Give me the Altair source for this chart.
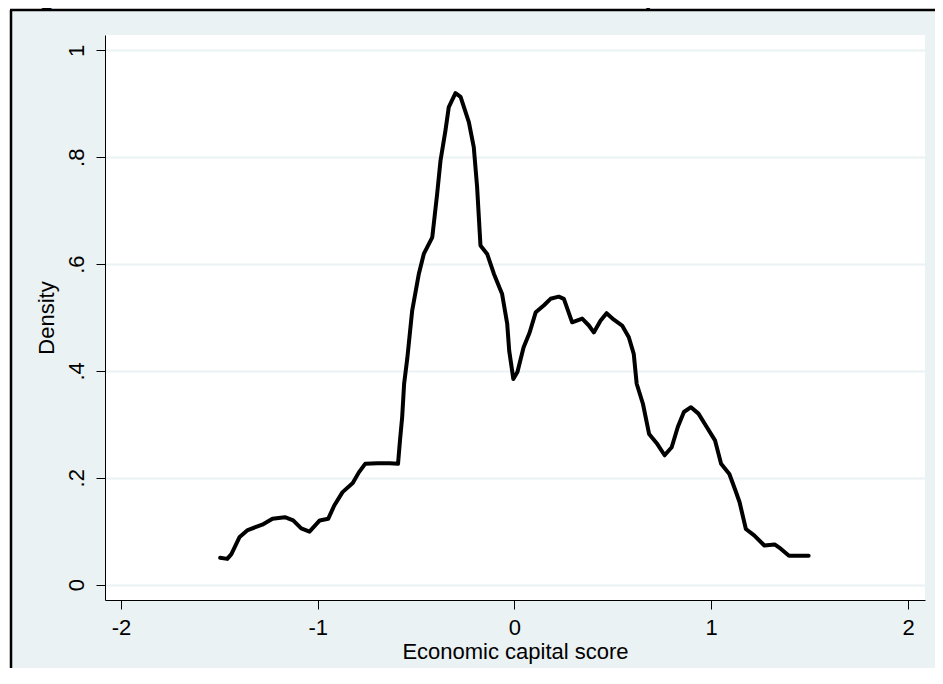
import altair as alt
import pandas as pd

# ---- data ----
score = [-1.496, -1.46, -1.439, -1.397, -1.356, -1.282, -1.23, -1.167, -1.125, -1.084,
         -1.042, -0.99, -0.947, -0.916, -0.874, -0.822, -0.791, -0.759, -0.696, -0.634,
         -0.592, -0.582, -0.571, -0.561, -0.545, -0.520, -0.486, -0.461, -0.418, -0.393,
         -0.376, -0.351, -0.334, -0.300, -0.274, -0.232, -0.207, -0.190, -0.173, -0.139,
         -0.105, -0.063, -0.037, -0.027, -0.006, 0.015, 0.046, 0.077, 0.108, 0.150,
         0.183, 0.225, 0.251, 0.293, 0.344, 0.378, 0.403, 0.437, 0.468, 0.505,
         0.547, 0.581, 0.606, 0.621, 0.653, 0.684, 0.726, 0.763, 0.799, 0.830,
         0.861, 0.897, 0.935, 0.977, 1.019, 1.050, 1.092, 1.123, 1.144, 1.176,
         1.218, 1.270, 1.322, 1.353, 1.395, 1.495]
density = [0.050, 0.048, 0.057, 0.089, 0.102, 0.112, 0.123, 0.126, 0.120, 0.105,
           0.099, 0.120, 0.123, 0.148, 0.173, 0.190, 0.210, 0.226, 0.227, 0.227,
           0.226, 0.270, 0.313, 0.376, 0.423, 0.513, 0.582, 0.619, 0.650, 0.732,
           0.794, 0.850, 0.894, 0.920, 0.913, 0.866, 0.819, 0.744, 0.635, 0.619,
           0.582, 0.544, 0.488, 0.438, 0.385, 0.398, 0.444, 0.472, 0.510, 0.523,
           0.535, 0.539, 0.535, 0.491, 0.498, 0.485, 0.472, 0.494, 0.508, 0.496,
           0.485, 0.463, 0.432, 0.376, 0.338, 0.282, 0.263, 0.242, 0.257, 0.295,
           0.323, 0.332, 0.320, 0.295, 0.270, 0.226, 0.207, 0.176, 0.154, 0.104,
           0.092, 0.073, 0.075, 0.067, 0.054, 0.054]

x_ticks = [-2, -1, 0, 1, 2]
x_tick_labels = ["-2", "-1", "0", "1", "2"]
y_ticks = [0, 0.2, 0.4, 0.6, 0.8, 1]
y_tick_labels = ["0", ".2", ".4", ".6", ".8", "1"]

title_text = "Figure 2: Distribution of standardised economic capital score"
x_title = "Economic capital score"
y_title = "Density"

FONT = "Liberation Sans"
BOX = "#EAF2F3"
W, H = 820, 565
PAD = {"left": 97, "top": 27, "right": 10, "bottom": 68}

df = pd.DataFrame({"score": score, "density": density})
one = pd.DataFrame({"k": [0]})


def make_expr(vals, labels):
    return " : ".join(
        f"abs(datum.value - ({v})) < 0.001 ? '{t}'" for v, t in zip(vals, labels)
    ) + " : ''"


line = alt.Chart(df).mark_line(
    color="black", strokeWidth=4, strokeJoin="round", strokeCap="round"
).encode(
    x=alt.X("score:Q",
            scale=alt.Scale(domain=[-2.0813, 2.0864], nice=False, zero=False),
            axis=alt.Axis(values=x_ticks, title=x_title, grid=False,
                          labelExpr=make_expr(x_ticks, x_tick_labels),
                          labelFontSize=22, titleFontSize=22, labelFont=FONT, titleFont=FONT,
                          titleFontWeight="normal", labelColor="black", titleColor="black",
                          tickSize=9, labelPadding=8, tickColor="black", domainColor="black",
                          titleY=41, titleBaseline="top", labelFlush=False)),
    y=alt.Y("density:Q",
            scale=alt.Scale(domain=[-0.029, 1.029], nice=False, zero=False),
            axis=alt.Axis(values=y_ticks, title=y_title, grid=True, gridColor=BOX,
                          gridWidth=2, labelExpr=make_expr(y_ticks, y_tick_labels),
                          labelAngle=270, labelAlign="center", labelBaseline="bottom",
                          labelFontSize=22, titleFontSize=22, labelFont=FONT, titleFont=FONT,
                          titleFontWeight="normal", labelColor="black", titleColor="black",
                          tickSize=9, labelPadding=8, tickColor="black", domainColor="black",
                          titleX=-47, titleAngle=270, titleBaseline="bottom",
                          labelFlush=False)),
)

white_left = alt.Chart(one).mark_rect(color="white").encode(
    x=alt.value(-PAD["left"]), x2=alt.value(-95),
    y=alt.value(-PAD["top"]), y2=alt.value(H + PAD["bottom"]))
white_top = alt.Chart(one).mark_rect(color="white").encode(
    x=alt.value(-PAD["left"]), x2=alt.value(W + PAD["right"]),
    y=alt.value(-PAD["top"]), y2=alt.value(-26))
title = alt.Chart(one).mark_text(
    align="left", baseline="alphabetic", fontSize=26, fontWeight="bold",
    font=FONT, color="black"
).encode(x=alt.value(-89), y=alt.value(-30), text=alt.value(title_text))
border_left = alt.Chart(one).mark_rule(color="black", strokeWidth=2.5).encode(
    x=alt.value(-94), y=alt.value(-25), y2=alt.value(H + PAD["bottom"]))
border_top = alt.Chart(one).mark_rule(color="black", strokeWidth=2.5).encode(
    x=alt.value(-95), x2=alt.value(W + PAD["right"]), y=alt.value(-25))

chart = alt.layer(
    white_left, white_top, title, border_left, border_top, line
).properties(
    width=W, height=H,
    padding=PAD,
    autosize=alt.AutoSizeParams(type="none"),
    background=BOX,
).configure_view(fill="white", stroke=None)

chart.save("out.html", embed_options={"renderer": "svg", "actions": False})
